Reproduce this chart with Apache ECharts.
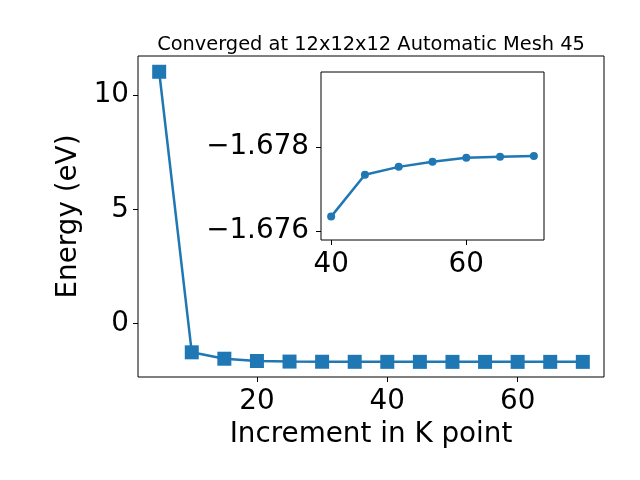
<!DOCTYPE html>
<html>
<head>
<meta charset="utf-8">
<script src="https://cdn.jsdelivr.net/npm/echarts@6/dist/echarts.min.js"></script>
<style>html,body{margin:0;padding:0;background:#fff}#c{width:640px;height:480px}</style>
</head>
<body>
<div id="c"></div>
<script>
var kpoints = [5, 10, 15, 20, 25, 30, 35, 40, 45, 50, 55, 60, 65, 70];
var energy = [11.02, -1.26, -1.54, -1.64, -1.665, -1.672, -1.675, -1.67634, -1.67734, -1.67753, -1.67765, -1.67775, -1.67777, -1.67779];
var insetK = [40, 45, 50, 55, 60, 65, 70];
var insetE = [-1.67634, -1.67734, -1.67753, -1.67765, -1.67775, -1.67777, -1.67779];
var mainXTicks = [20, 40, 60];
var mainYTicks = [0, 5, 10];
var insetXTicks = [40, 60];
var insetYTicks = [-1.678, -1.676];
var titleText = 'Converged at 12x12x12 Automatic Mesh 45';
var xName = 'Increment in K point';
var yName = 'Energy (eV)';

var FONT = 'DejaVu Sans';
var C = '#1f77b4';
function pairs(xs, ys) { return xs.map(function (x, i) { return [x, ys[i]]; }); }
function axisCommon(ticks) {
  return {
    axisLine: { show: false, onZero: false },
    splitLine: { show: false },
    axisTick: { show: true, length: 5, lineStyle: { color: '#000', width: 1 }, customValues: ticks },
    axisLabel: { customValues: ticks, fontFamily: FONT, fontSize: 27.8, color: '#000' }
  };
}
var chart = echarts.init(document.getElementById('c'), null, { renderer: 'canvas' });
var mx = axisCommon(mainXTicks), my = axisCommon(mainYTicks), ix = axisCommon(insetXTicks), iy = axisCommon(insetYTicks);
mx.axisLabel.margin = 11;
my.axisLabel.margin = 9;
my.axisLabel.padding = [5, 0, 0, 0];
ix.axisLabel.margin = 11;
iy.axisLabel.margin = 12;
iy.axisLabel.padding = [5, 0, 0, 0];
iy.axisLabel.formatter = function (v) { return v.toFixed(3).replace('-', '\u2212'); };
chart.setOption({
  animation: false,
  backgroundColor: '#fff',
  graphic: [{
    type: 'text', x: 371, y: 54,
    style: { text: titleText, font: '19.4px "DejaVu Sans"', fill: '#000', textAlign: 'center', textVerticalAlign: 'bottom' }
  }],
  grid: [
    { left: 138, top: 56, width: 466, height: 321, show: true, borderColor: '#000', borderWidth: 1, backgroundColor: 'transparent' },
    { left: 321, top: 72, width: 223, height: 168, show: true, borderColor: '#000', borderWidth: 1, backgroundColor: '#fff', z: 5 }
  ],
  xAxis: [
    Object.assign({ type: 'value', gridIndex: 0, min: 1.75, max: 73.25, name: xName, nameLocation: 'middle', nameGap: 42,
      nameTextStyle: { fontFamily: FONT, fontSize: 27.8, color: '#000' } }, mx),
    Object.assign({ type: 'value', gridIndex: 1, min: 38.5, max: 71.5, z: 6 }, ix)
  ],
  yAxis: [
    Object.assign({ type: 'value', gridIndex: 0, min: -2.34, max: 11.71, name: yName, nameLocation: 'middle', nameGap: 43,
      nameTextStyle: { fontFamily: FONT, fontSize: 27.8, color: '#000' } }, my),
    Object.assign({ type: 'value', gridIndex: 1, min: -1.6798, max: -1.67578, inverse: true, z: 6 }, iy)
  ],
  series: [
    { type: 'line', xAxisIndex: 0, yAxisIndex: 0, data: pairs(kpoints, energy), symbol: 'rect', symbolSize: 14,
      lineStyle: { color: C, width: 2.5 }, itemStyle: { color: C }, z: 2 },
    { type: 'line', xAxisIndex: 1, yAxisIndex: 1, data: pairs(insetK, insetE), symbol: 'circle', symbolSize: 8,
      lineStyle: { color: C, width: 2.5 }, itemStyle: { color: C }, z: 10 }
  ]
});
</script>
</body>
</html>
